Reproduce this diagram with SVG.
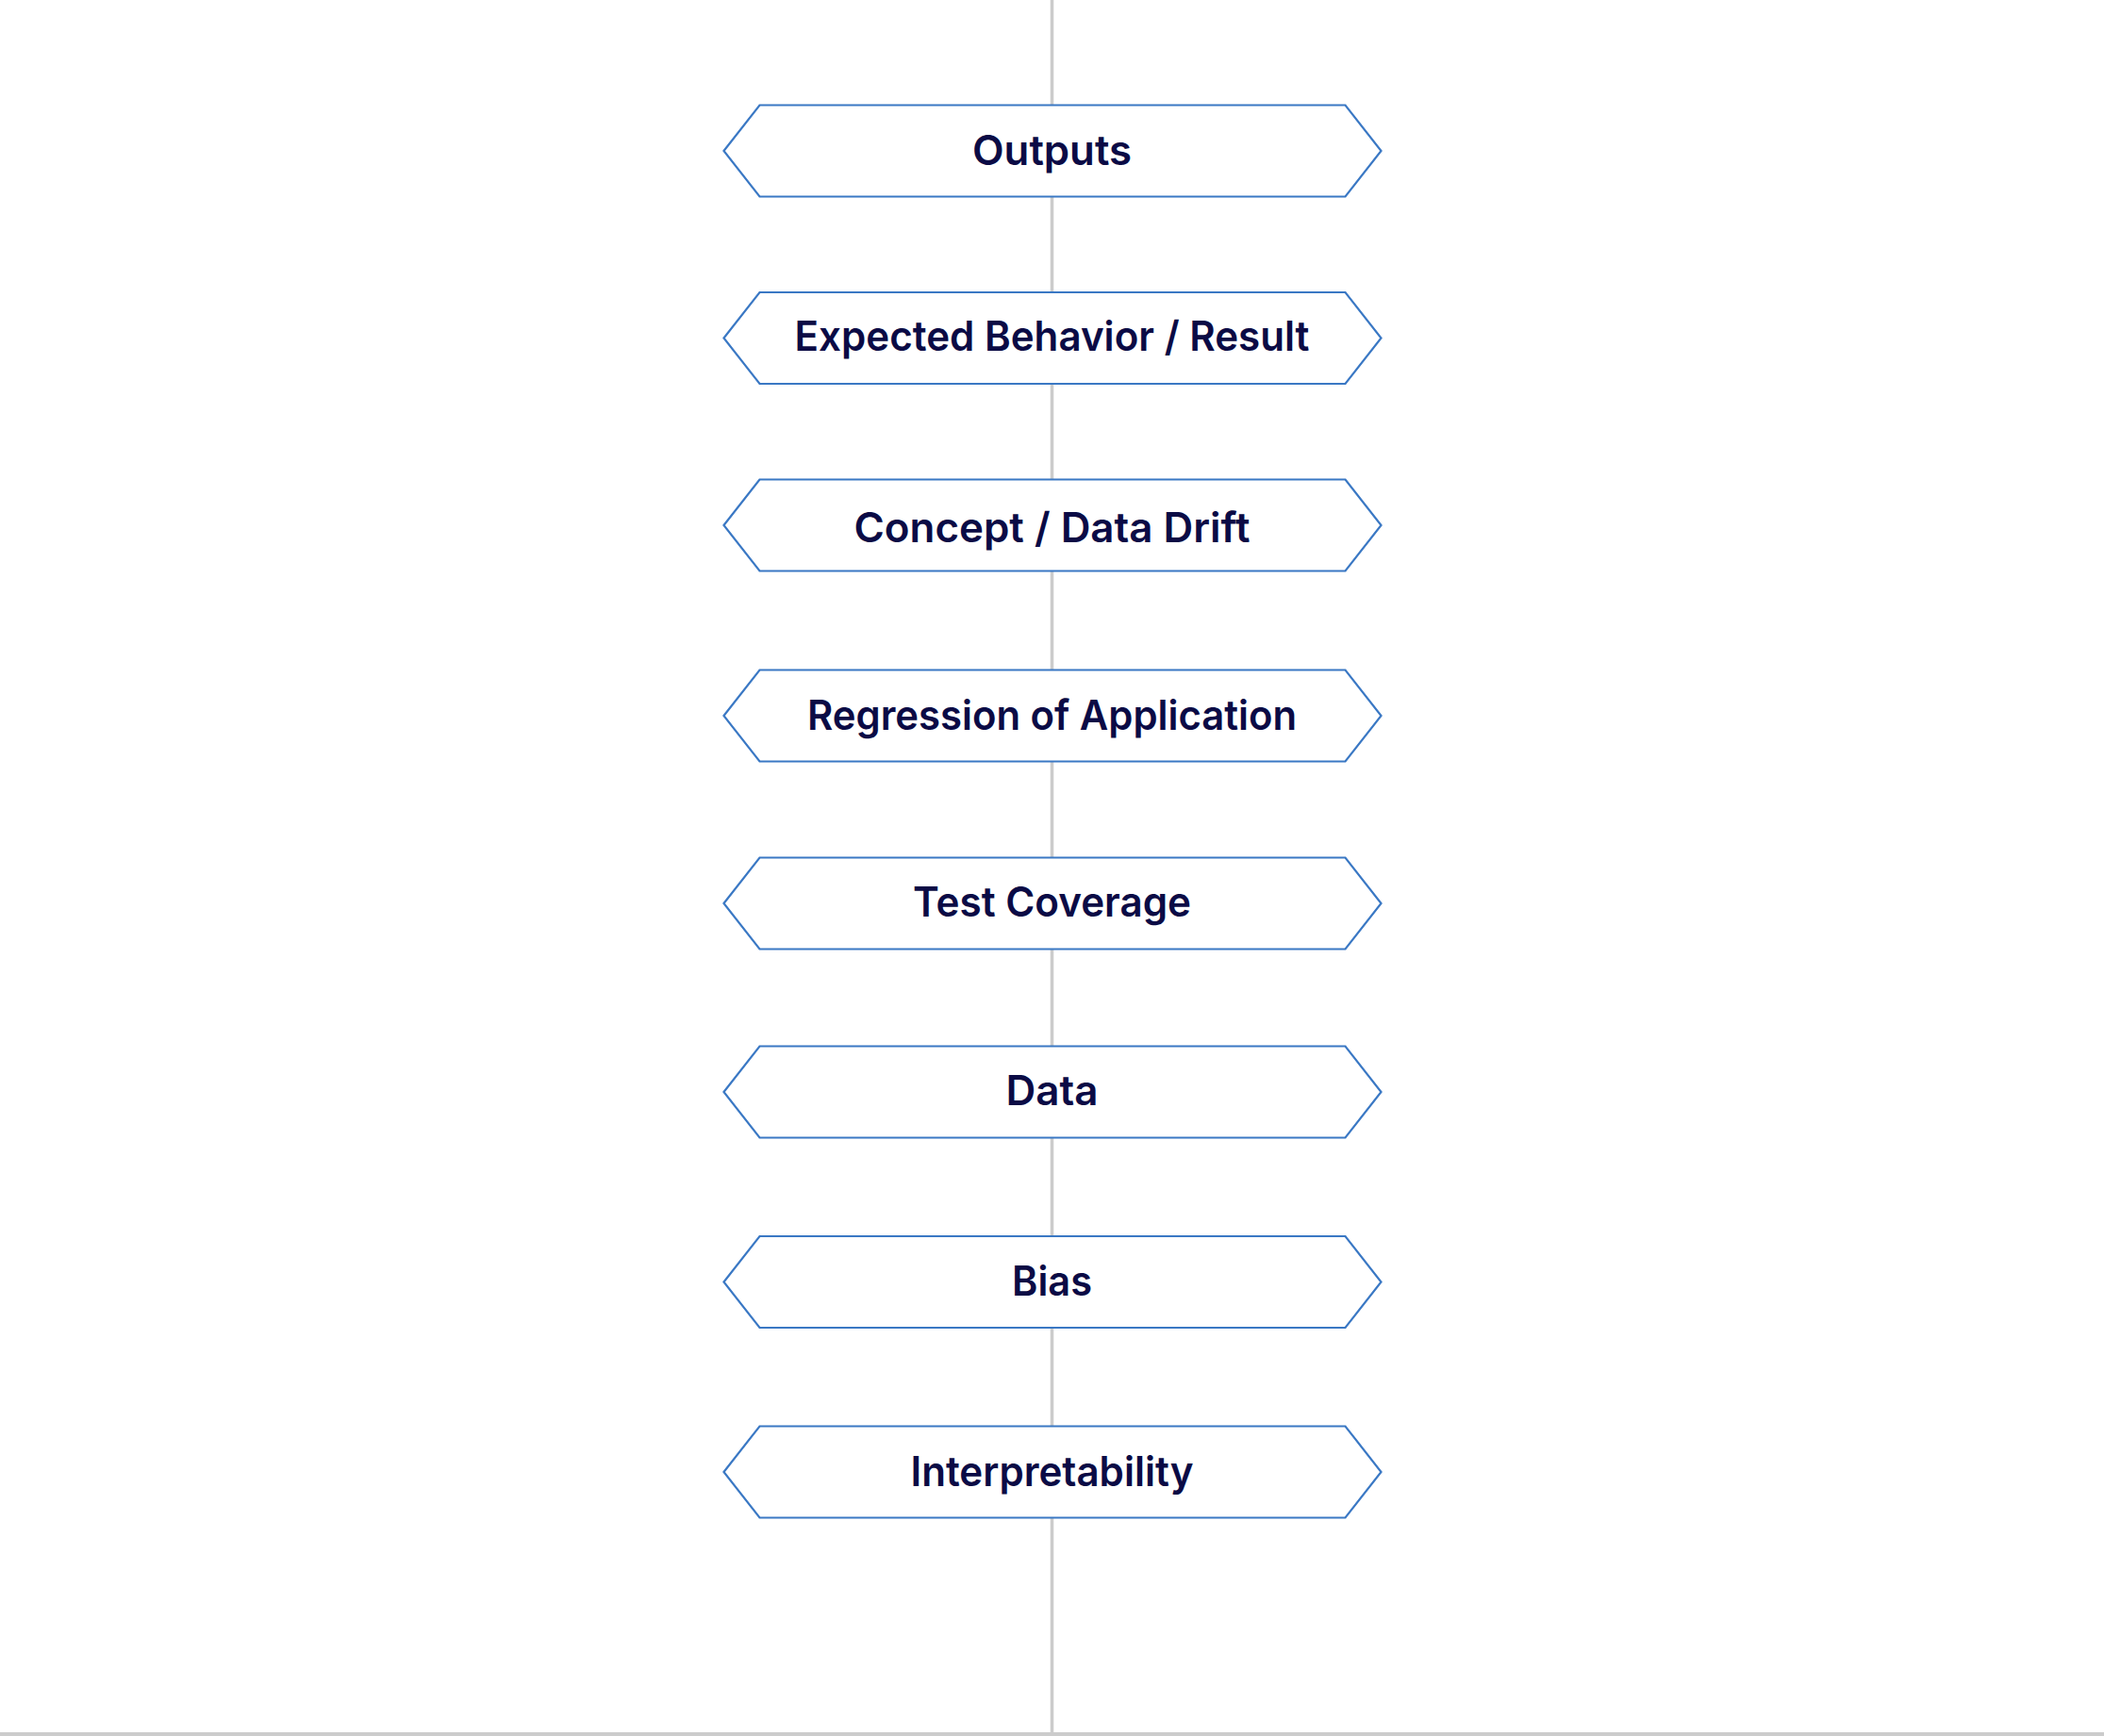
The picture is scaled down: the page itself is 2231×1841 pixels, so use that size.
<svg xmlns="http://www.w3.org/2000/svg" width="2231" height="1841" viewBox="0 0 2231 1841">
<style>
.hex{fill:#ffffff;stroke:#3a78c4;stroke-width:2.2;stroke-linejoin:miter}
.lbl{font-family:Inter,"Noto Sans","Liberation Sans",sans-serif;font-weight:600;font-size:44px;fill:#0b0b45;text-anchor:middle}
.conn{stroke:#cccccc;stroke-width:3.5;fill:none}
</style>
<defs>
<polygon id="hexshape" points="-348,0 -310,-48.5 311,-48.5 349,0 311,48.5 -310,48.5"/>
</defs>
<rect width="2231" height="1841" fill="#ffffff"/>
<g id="connectors">
<line class="conn" x1="1115.5" y1="0" x2="1115.5" y2="1838"/>
<rect x="0" y="1837" width="2231" height="4" fill="#cccccc"/>
</g>
<g id="node-outputs" transform="translate(1115.5,160)"><use href="#hexshape" class="hex"/><text class="lbl" x="0" y="14.5" textLength="169" lengthAdjust="spacingAndGlyphs">Outputs</text></g>
<g id="node-expected" transform="translate(1115.5,358.5)"><use href="#hexshape" class="hex"/><text class="lbl" x="0" y="13.5" textLength="546" lengthAdjust="spacingAndGlyphs">Expected Behavior / Result</text></g>
<g id="node-drift" transform="translate(1115.5,557)"><use href="#hexshape" class="hex"/><text class="lbl" x="0" y="18" textLength="420" lengthAdjust="spacingAndGlyphs">Concept / Data Drift</text></g>
<g id="node-regression" transform="translate(1115.5,759)"><use href="#hexshape" class="hex"/><text class="lbl" x="0" y="14.5" textLength="519" lengthAdjust="spacingAndGlyphs">Regression of Application</text></g>
<g id="node-coverage" transform="translate(1115.5,958)"><use href="#hexshape" class="hex"/><text class="lbl" x="0" y="14" textLength="295" lengthAdjust="spacingAndGlyphs">Test Coverage</text></g>
<g id="node-data" transform="translate(1115.5,1158)"><use href="#hexshape" class="hex"/><text class="lbl" x="0" y="14" textLength="98" lengthAdjust="spacingAndGlyphs">Data</text></g>
<g id="node-bias" transform="translate(1115.5,1359.5)"><use href="#hexshape" class="hex"/><text class="lbl" x="0" y="14" textLength="85" lengthAdjust="spacingAndGlyphs">Bias</text></g>
<g id="node-interpretability" transform="translate(1115.5,1561)"><use href="#hexshape" class="hex"/><text class="lbl" x="0" y="14.5" textLength="300" lengthAdjust="spacingAndGlyphs">Interpretability</text></g>
</svg>
